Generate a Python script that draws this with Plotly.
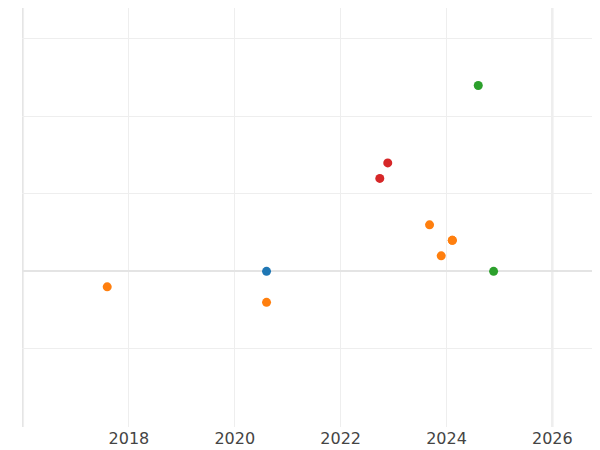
import plotly.graph_objects as go

blue_x = [2020.6]; blue_y = [0.0]
orange_x = [2017.59, 2020.6, 2023.68, 2024.11, 2024.11, 2023.9]
orange_y = [-0.2, -0.4, 0.6, 0.4, 0.4, 0.2]
green_x = [2024.6, 2024.89]; green_y = [2.4, 0.0]
red_x = [2022.74, 2022.89]; red_y = [1.2, 1.4]

fig = go.Figure()
for xs, ys, c in [(blue_x, blue_y, "#1f77b4"), (orange_x, orange_y, "#ff7f0e"),
                  (green_x, green_y, "#2ca02c"), (red_x, red_y, "#d62728")]:
    fig.add_trace(go.Scatter(x=xs, y=ys, mode="markers", marker=dict(color=c, size=9)))

fig.update_layout(
    width=592, height=442, showlegend=False,
    plot_bgcolor="white", paper_bgcolor="white",
    margin=dict(l=14, r=0, t=0, b=23, autoexpand=False),
    font=dict(family="DejaVu Sans", size=16, color="#444"),
    xaxis=dict(range=[2015.98, 2026.9], dtick=2, tick0=2016, showgrid=True,
               gridcolor="#eeeeee", zeroline=False, showline=False, ticks=""),
    yaxis=dict(range=[-2.01, 3.4], dtick=1, showgrid=True, gridcolor="#eeeeee",
               showticklabels=False, zeroline=True, zerolinecolor="#e4e4e4", zerolinewidth=2),
)
for xv in [2016, 2026]:
    fig.add_vline(x=xv, line_color="#e4e4e4", line_width=2, layer="below")
fig.write_html("out.html")
